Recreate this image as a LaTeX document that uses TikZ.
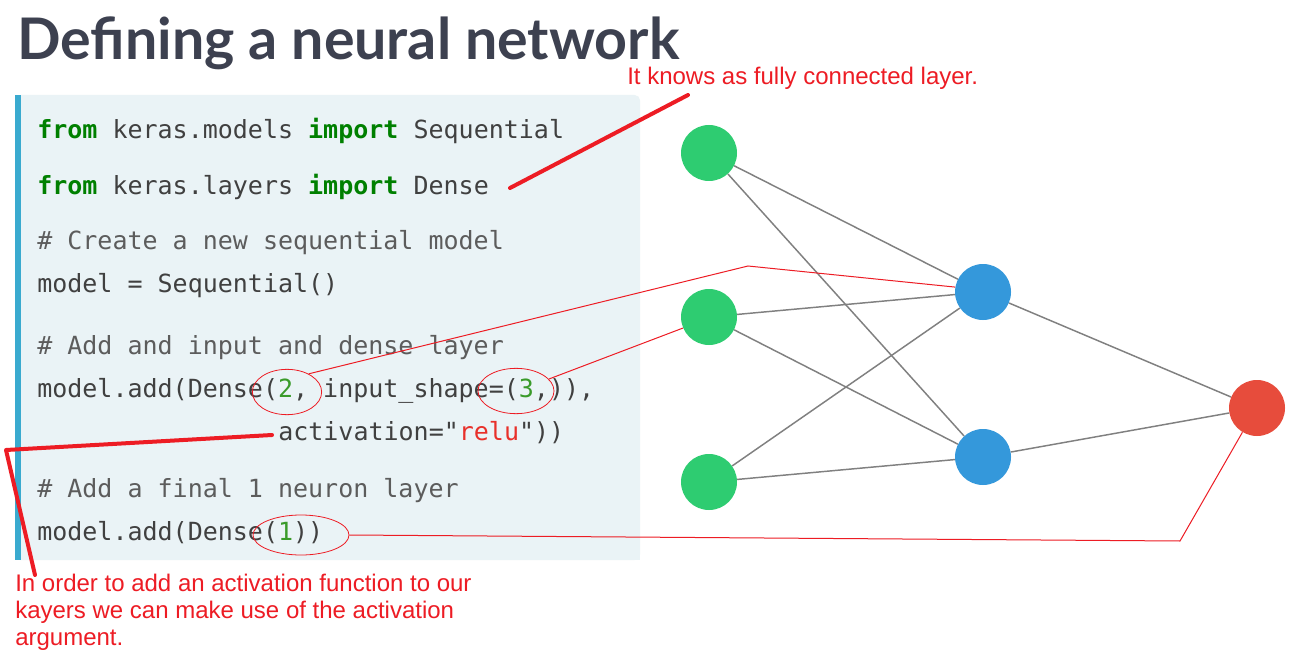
\documentclass[tikz,border=0pt]{standalone}
\usepackage{fontspec}
\setmainfont{Liberation Sans}
\newfontfamily\titlefont{Lato}
\newfontfamily\codefont{DejaVu Sans Mono}
\usetikzlibrary{shapes.geometric}

\definecolor{titlegray}{HTML}{3D4150}
\definecolor{codebg}{HTML}{EAF3F6}
\definecolor{barblue}{HTML}{3AAACF}
\definecolor{codetext}{HTML}{404040}
\definecolor{comment}{HTML}{5C5C5C}
\definecolor{keyword}{HTML}{008000}
\definecolor{number}{HTML}{3A9B2A}
\definecolor{strred}{HTML}{E8302A}
\definecolor{annot}{HTML}{ED1C24}
\definecolor{edgegray}{HTML}{808080}
\definecolor{ingreen}{HTML}{2ECC71}
\definecolor{hidblue}{HTML}{3498DB}
\definecolor{outred}{HTML}{E74C3C}

\newcommand{\kw}[1]{\textcolor{keyword}{\bfseries #1}}
\newcommand{\num}[1]{\textcolor{number}{#1}}
\newcommand{\cmt}[1]{\textcolor{comment}{#1}}

\tikzset{
  neuron/.style={circle, minimum size=42pt, inner sep=0pt},
  edge/.style={draw=edgegray, line width=1.1pt},
  codeline/.style={anchor=base west, inner sep=0pt, text=codetext,
    font=\codefont\fontsize{18.75pt}{20pt}\selectfont},
  note/.style={anchor=base west, inner sep=0pt, text=annot,
    font=\fontsize{18pt}{20pt}\selectfont},
  thinred/.style={draw=annot, line width=0.75pt},
  thickred/.style={draw=annot, line width=3pt, line cap=round, line join=round},
  ring/.style={ellipse, draw=annot, line width=0.6pt, inner sep=0pt},
}

\begin{document}
\begin{tikzpicture}[x=0.75pt, y=-0.75pt]
  \useasboundingbox (0,0) rectangle (1305,659);
  \fill[white] (0,0) rectangle (1305,659);

  % title
  \node[anchor=base west, inner sep=0pt, text=titlegray,
        font=\titlefont\bfseries\fontsize{43pt}{47pt}\selectfont]
        (title) at (17,60) {Defining a neural network};

  % code block background and left bar
  \fill[codebg, rounded corners=4pt] (15,95) rectangle (640,560);
  \fill[codebg] (15,520) rectangle (640,560);
  \fill[barblue] (15,95) rectangle (21,560);

  % code lines
  \node[codeline] (c1) at (37,139) {\kw{from} keras.models \kw{import} Sequential};
  \node[codeline] (c2) at (37,195) {\kw{from} keras.layers \kw{import} Dense};
  \node[codeline] (c3) at (37,249) {\cmt{\# Create a new sequential model}};
  \node[codeline] (c4) at (37,292) {model = Sequential()};
  \node[codeline] (c5) at (37,354) {\cmt{\# Add and input and dense layer}};
  \node[codeline] (c6) at (37,397) {model.add(Dense(\num{2}, input\_shape=(\num{3},)),};
  \node[codeline] (c7) at (278,440) {activation="\textcolor{strred}{relu}"))};
  \node[codeline] (c8) at (37,497) {\cmt{\# Add a final 1 neuron layer}};
  \node[codeline] (c9) at (37,540) {model.add(Dense(\num{1}))};

  % network
  \node[neuron, fill=ingreen] (g1) at (709,153) {};
  \node[neuron, fill=ingreen] (g2) at (709,317) {};
  \node[neuron, fill=ingreen] (g3) at (709,482) {};
  \node[neuron, fill=hidblue] (b1) at (983,292) {};
  \node[neuron, fill=hidblue] (b2) at (983,457) {};
  \node[neuron, fill=outred]  (r1) at (1257,408) {};

  \foreach \g in {g1,g2,g3}
    \foreach \b in {b1,b2}
      \draw[edge] (\g) -- (\b);
  \draw[edge] (b1) -- (r1);
  \draw[edge] (b2) -- (r1);

  % annotations
  \node[note] (n1) at (627,85) {It knows as fully connected layer.};
  \node[note] (n2) at (15,591) {In order to add an activation function to our};
  \node[note] (n3) at (15,618) {kayers we can make use of the activation};
  \node[note] (n4) at (15,645) {argument.};

  \coordinate (k1) at (688,95);
  \coordinate (k2) at (510,188);
  \draw[thickred] (k1) -- (k2);

  \coordinate (a1) at (272,435);
  \coordinate (a2) at (6,450);
  \coordinate (a3) at (35,575);
  \draw[thickred] (a1) -- (a2) -- (a3);

  \node[ring, minimum width=52pt, minimum height=34pt] (e2) at (287,392) {};
  \node[ring, minimum width=57pt, minimum height=34pt] (e3) at (516,391) {};
  \node[ring, minimum width=72pt, minimum height=30pt] (e1) at (301,535) {};

  \coordinate (p1) at (748,266);
  \coordinate (p2) at (1180,541);
  \draw[thinred] (e2.40) -- (p1) -- (b1.170);
  \draw[thinred] (e3.20) -- (g2.203);
  \draw[thinred] (e1.east) -- (p2) -- (r1.239);
\end{tikzpicture}
\end{document}
